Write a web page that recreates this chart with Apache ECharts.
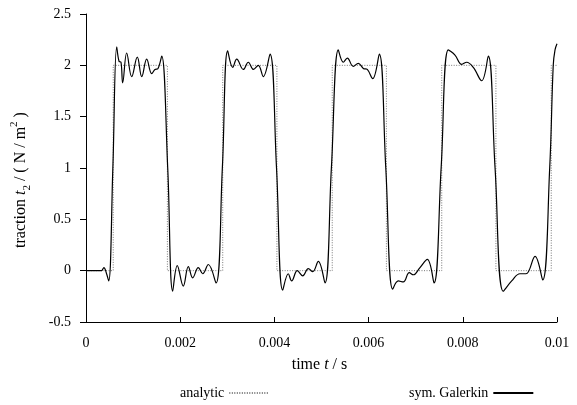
<!DOCTYPE html>
<html>
<head>
<meta charset="utf-8">
<script src="https://cdn.jsdelivr.net/npm/echarts@6/dist/echarts.min.js"></script>
<style>html,body{margin:0;padding:0;background:#fff;}#c{width:577px;height:405px;}</style>
</head>
<body>
<div id="c"></div>
<script>
// time in milliseconds (converted to seconds for the axis)
var analyticTimeMs = [0, 0.578, 0.578, 1.728, 1.728, 2.903, 2.903, 4.053, 4.053, 5.228, 5.228, 6.378, 6.378, 7.553, 7.553, 8.703, 8.703, 9.878, 9.878, 10.0];
var analyticValues = [0, 0, 2, 2, 0, 0, 2, 2, 0, 0, 2, 2, 0, 0, 2, 2, 0, 0, 2, 2];

var galerkinTimeMs = [0, 0.25, 0.33, 0.38, 0.43, 0.482, 0.570, 0.652, 0.701, 0.743, 0.779, 0.864, 0.970, 1.089, 1.183, 1.289, 1.395, 1.465, 1.529, 1.607,
  1.735, 1.841, 1.938, 2.066, 2.172, 2.265, 2.384, 2.478, 2.597, 2.760,
  2.895, 3.008, 3.115, 3.200, 3.340, 3.446, 3.556, 3.658, 3.764, 3.907,
  4.045, 4.176, 4.295, 4.367, 4.486, 4.601, 4.720, 4.813, 4.932, 5.074,
  5.210, 5.357, 5.463, 5.548, 5.675, 5.781, 5.888, 5.972, 6.087, 6.227,
  6.365, 6.512, 6.631, 6.737, 6.864, 6.949, 7.091, 7.246, 7.389,
  7.540, 7.692, 7.834, 7.977, 8.083, 8.223, 8.401, 8.541,
  8.685, 8.860, 9.038, 9.214, 9.342, 9.533, 9.696,
  9.845, 9.920, 9.958, 10.0];
var galerkinValues = [0, 0, 0, 0.03, -0.02, -0.1, 1.0, 2.18, 2.04, 2.03, 1.83, 2.12, 1.89, 2.08, 1.89, 2.06, 1.92, 1.96, 1.97, 2.09,
  1.0, -0.2, 0.05, -0.15, 0.04, -0.07, 0.03, -0.03, 0.06, -0.12,
  1.0, 2.14, 1.98, 2.06, 1.96, 2.03, 1.96, 2.0, 1.89, 2.11,
  1.0, -0.19, -0.03, -0.1, 0.0, -0.05, 0.02, -0.01, 0.09, -0.12,
  1.0, 2.15, 2.03, 2.07, 1.99, 2.02, 1.97, 1.96, 1.87, 2.11,
  1.0, -0.18, -0.1, -0.11, -0.02, -0.04, 0.03, 0.11, -0.12,
  1.0, 2.15, 2.1, 2.01, 2.03, 1.98, 1.85, 2.09,
  1.0, -0.2, -0.1, -0.03, -0.03, 0.14, -0.09,
  1.0, 2.0, 2.15, 2.21];

var xTicks = [0, 0.002, 0.004, 0.006, 0.008, 0.01];
var yTicks = [-0.5, 0, 0.5, 1, 1.5, 2, 2.5];

function pairs(tms, vals) {
  return tms.map(function (t, i) { return [t / 1000, vals[i]]; });
}

var FONT = 'Liberation Serif';
var chart = echarts.init(document.getElementById('c'), null, {renderer: 'canvas'});
chart.setOption({
  animation: false,
  backgroundColor: '#fff',
  grid: {left: 86, right: 20, top: 14, bottom: 83},
  xAxis: {
    type: 'value', min: 0, max: 0.01, interval: 0.002,
    splitLine: {show: false},
    axisLine: {onZero: false, lineStyle: {color: '#000', width: 1}},
    axisTick: {inside: true, length: 5, lineStyle: {color: '#000'}},
    axisLabel: {color: '#000', fontFamily: FONT, fontSize: 14, margin: 14,
      formatter: function (v) { var r = Math.round(v * 1000) / 1000; return xTicks.indexOf(r) >= 0 ? String(r) : ''; }},
    name: '{n|time }{i|t}{n| / s}',
    nameLocation: 'middle', nameGap: 35,
    nameTextStyle: {padding: [0, 4, 0, 0], rich: {
      n: {fontFamily: FONT, fontSize: 16, color: '#000'},
      i: {fontFamily: FONT, fontSize: 16, fontStyle: 'italic', color: '#000'}
    }}
  },
  yAxis: {
    type: 'value', min: -0.5, max: 2.5, interval: 0.5,
    splitLine: {show: false},
    axisLine: {show: true, onZero: false, lineStyle: {color: '#000', width: 1}},
    axisTick: {show: true, inside: false, length: 6, lineStyle: {color: '#000'}},
    axisLabel: {color: '#000', fontFamily: FONT, fontSize: 14, margin: 15,
      formatter: function (v) { var r = Math.round(v * 10) / 10; return yTicks.indexOf(r) >= 0 ? String(r) : ''; }},
    name: '{n|traction }{i|t}{sub|2}{n| / ( N / m}{sup|2}{n| )}',
    nameLocation: 'middle', nameGap: 53, nameRotate: 90,
    nameTextStyle: {padding: [0, 24, 0, 0], rich: {
      n: {fontFamily: FONT, fontSize: 16, color: '#000', lineHeight: 24},
      i: {fontFamily: FONT, fontSize: 16, fontStyle: 'italic', color: '#000', lineHeight: 24},
      sub: {fontFamily: FONT, fontSize: 11, color: '#000', lineHeight: 11, verticalAlign: 'bottom'},
      sup: {fontFamily: FONT, fontSize: 11, color: '#000', lineHeight: 11, verticalAlign: 'top'}
    }}
  },
  legend: [
    {data: ['analytic'], left: 180, top: 386, padding: 0, align: 'right', itemWidth: 40, itemHeight: 14,
      itemStyle: {opacity: 0},
      textStyle: {fontFamily: FONT, fontSize: 14, color: '#000'}},
    {data: ['sym. Galerkin'], left: 409, top: 386, padding: 0, align: 'right', itemWidth: 40, itemHeight: 14,
      itemStyle: {opacity: 0},
      textStyle: {fontFamily: FONT, fontSize: 14, color: '#000'}}
  ],
  series: [
    {name: 'analytic', type: 'line', data: pairs(analyticTimeMs, analyticValues),
      showSymbol: false, symbol: 'none',
      lineStyle: {color: '#777', width: 1, type: [1, 1.5]}, itemStyle: {color: '#777'}, z: 1},
    {name: 'sym. Galerkin', type: 'line', data: pairs(galerkinTimeMs, galerkinValues),
      showSymbol: false, symbol: 'none', smooth: 0.4,
      lineStyle: {color: '#000', width: 1.2}, itemStyle: {color: '#000'}, z: 2}
  ]
});
</script>
</body>
</html>
